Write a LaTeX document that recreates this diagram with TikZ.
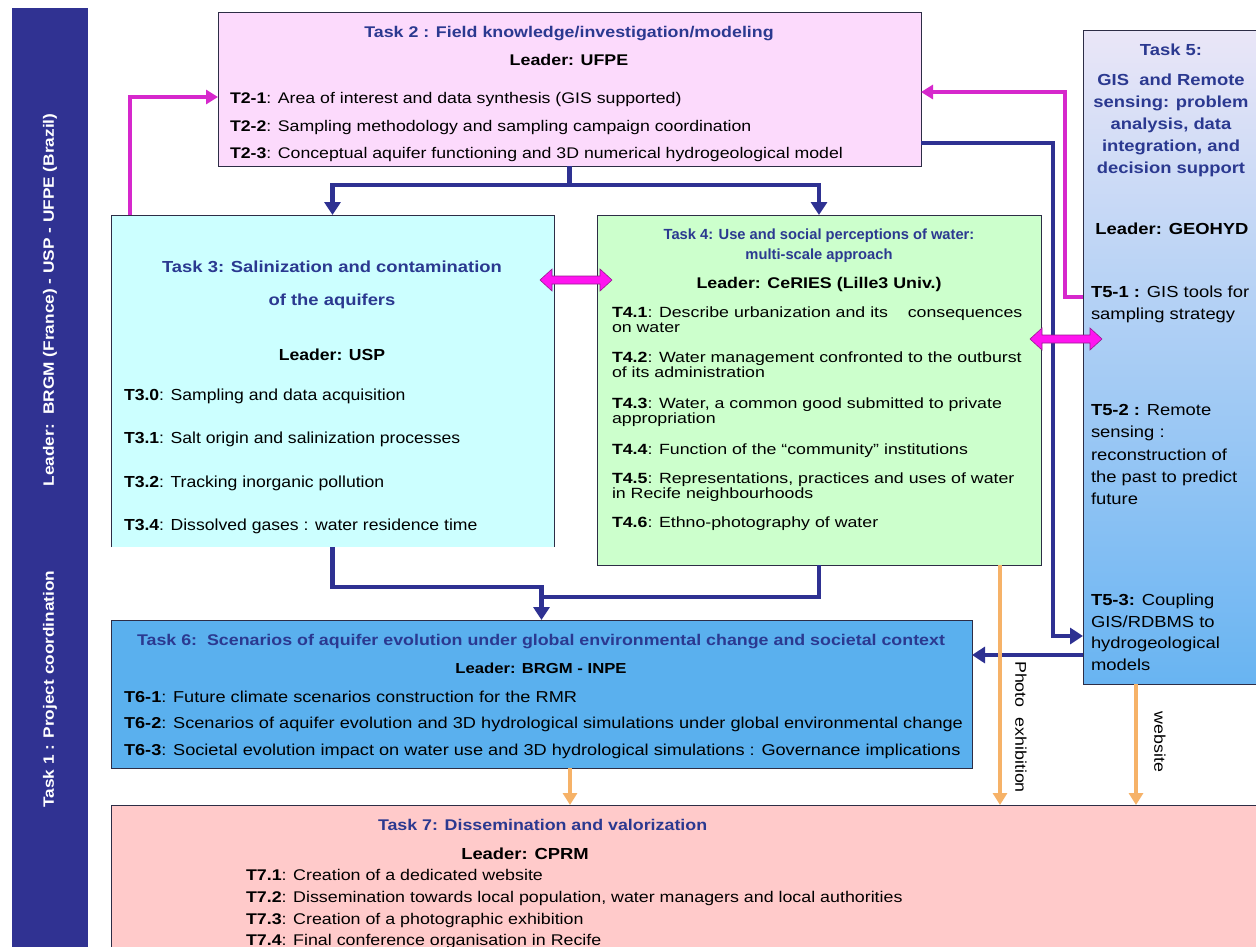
\documentclass[tikz,border=0pt]{standalone}
\usepackage{fontspec}
\setmainfont{Liberation Sans}
\newfontfamily\fa[FakeStretch=1.1]{Liberation Sans}
\newfontfamily\fb[FakeStretch=1.15]{Liberation Sans}
\newfontfamily\fc[FakeStretch=1.2]{Liberation Sans}
\usetikzlibrary{arrows.meta,calc}
\definecolor{barblue}{RGB}{48,50,146}
\definecolor{ttlc}{RGB}{43,57,144}
\definecolor{tpink}{RGB}{252,218,252}
\definecolor{tcyan}{RGB}{204,255,255}
\definecolor{tgreen}{RGB}{204,255,204}
\definecolor{tblue}{RGB}{90,176,238}
\definecolor{tsalmon}{RGB}{255,202,202}
\definecolor{tfivetop}{RGB}{234,230,247}
\definecolor{tfivebot}{RGB}{104,180,242}
\definecolor{navyc}{RGB}{46,49,146}
\definecolor{magc}{RGB}{214,40,204}
\definecolor{magfill}{RGB}{255,20,240}
\definecolor{orngc}{RGB}{246,178,104}
\definecolor{edgec}{RGB}{45,45,70}
\tikzset{
  box/.style={draw=edgec, line width=0.8pt, inner sep=0pt, outer sep=0pt, anchor=north west},
  navyline/.style={draw=navyc, line width=4.5pt},
  navyarr/.style={navyline, -{Triangle[length=13pt,width=16pt]}},
  magarr/.style={draw=magc, line width=3.5pt, -{Triangle[length=12pt,width=14pt]}},
  orarr/.style={draw=orngc, line width=3.5pt, -{Triangle[length=12pt,width=14pt]}},
  ln/.style={anchor=base west, inner sep=0pt, outer sep=0pt},
  lc/.style={anchor=base, inner sep=0pt, outer sep=0pt},
  ftwo/.style={font=\fb\fontsize{15.4}{17}\selectfont},
  fthree/.style={font=\fa\fontsize{16}{18}\selectfont},
  ffour/.style={font=\fc\fontsize{14.8}{17}\selectfont},
  ffive/.style={font=\fb\fontsize{16}{18}\selectfont},
  fsix/.style={font=\fb\fontsize{15.8}{17}\selectfont},
  fseven/.style={font=\fb\fontsize{15.5}{17}\selectfont},
  ttl/.style={text=ttlc},
}
\newcommand{\magdbl}[3]{%
  \filldraw[fill=magfill, draw=magc!70!black, line width=0.6pt]
    (#1,#3) -- (#1+12,#3-11) -- (#1+12,#3-4) -- (#2-12,#3-4) -- (#2-12,#3-11)
    -- (#2,#3) -- (#2-12,#3+11) -- (#2-12,#3+4) -- (#1+12,#3+4) -- (#1+12,#3+11) -- cycle;}
\begin{document}
\begin{tikzpicture}[x=1pt,y=-1pt]
\useasboundingbox (0,0) rectangle (1256,946);
\fill[white] (0,0) rectangle (1256,946);

% ---------- boxes ----------
\node[box, draw=none, fill=barblue, minimum width=76pt, minimum height=940pt] (t1) at (12,8) {};
\node[box, fill=tpink, minimum width=703pt, minimum height=154pt] (t2) at (218,12) {};
\node[box, draw=none, fill=tcyan, minimum width=443pt, minimum height=332pt] (t3) at (111,215) {};
\draw[draw=edgec, line width=0.8pt] (t3.south west) -- (t3.north west) -- (t3.north east) -- (t3.south east);
\node[box, fill=tgreen, minimum width=444pt, minimum height=350pt] (t4) at (597,215) {};
\node[box, top color=tfivetop, bottom color=tfivebot, minimum width=180pt, minimum height=654pt] (t5) at (1083,30) {};
\node[box, fill=tblue, minimum width=861pt, minimum height=148pt] (t6) at (111,620) {};
\node[box, fill=tsalmon, minimum width=1155pt, minimum height=150pt] (t7) at (111,805) {};

% ---------- Task 1 bar ----------
\node[rotate=90, text=white, font=\fb\bfseries\fontsize{15}{17}\selectfont, inner sep=0pt] (t1a) at (50,300) {Leader:\ \ BRGM (France) - USP - UFPE (Brazil)};
\node[rotate=90, text=white, font=\fb\bfseries\fontsize{15}{17}\selectfont, inner sep=0pt] (t1b) at (50,689) {Task 1 : Project coordination};

% ---------- Task 2 ----------
\node[lc, ttl, font=\fb\bfseries\fontsize{15.5}{17}\selectfont] (t2t) at (569,37) {Task 2 : Field knowledge/investigation/modeling};
\node[lc, font=\fb\bfseries\fontsize{15.5}{17}\selectfont] (t2l) at (569,65) {Leader: UFPE};
\node[ln, ftwo] (t2a) at (230,103) {\textbf{T2-1}: Area of interest and data synthesis (GIS supported)};
\node[ln, ftwo] (t2b) at (230,131) {\textbf{T2-2}: Sampling methodology and sampling campaign coordination};
\node[ln, ftwo] (t2c) at (230,158) {\textbf{T2-3}: Conceptual aquifer functioning and 3D numerical hydrogeological model};

% ---------- Task 3 ----------
\node[lc, ttl, font=\fb\bfseries\fontsize{16}{18}\selectfont] (t3t) at (332,272) {Task 3: Salinization and contamination};
\node[lc, ttl, font=\fb\bfseries\fontsize{16}{18}\selectfont] (t3u) at (332,305) {of the aquifers};
\node[lc, font=\fa\bfseries\fontsize{16}{18}\selectfont] (t3l) at (332,360) {Leader: USP};
\node[ln, fthree] (t3a) at (124,400) {\textbf{T3.0}: Sampling and data acquisition};
\node[ln, fthree] (t3b) at (124,443) {\textbf{T3.1}: Salt origin and salinization processes};
\node[ln, fthree] (t3c) at (124,487) {\textbf{T3.2}: Tracking inorganic pollution};
\node[ln, fthree] (t3d) at (124,530) {\textbf{T3.4}: Dissolved gases : water residence time};

% ---------- Task 4 ----------
\node[lc, ttl, font=\bfseries\fontsize{14.7}{16}\selectfont] (t4t) at (819,239) {Task 4: Use and social perceptions of water:};
\node[lc, ttl, font=\bfseries\fontsize{14.7}{16}\selectfont] (t4u) at (819,259) {multi-scale approach};
\node[lc, font=\fb\bfseries\fontsize{15.5}{17}\selectfont] (t4l) at (819,288) {Leader: CeRIES (Lille3 Univ.)};
\node[ln, ffour] (t4a) at (612,317) {\textbf{T4.1}: Describe urbanization and its\ \ \ \ consequences};
\node[ln, ffour] (t4b) at (612,332) {on water};
\node[ln, ffour] (t4c) at (612,362) {\textbf{T4.2}: Water management confronted to the outburst};
\node[ln, ffour] (t4d) at (612,377) {of its administration};
\node[ln, ffour] (t4e) at (612,408) {\textbf{T4.3}: Water, a common good submitted to private};
\node[ln, ffour] (t4f) at (612,423) {appropriation};
\node[ln, ffour] (t4g) at (612,454) {\textbf{T4.4}: Function of the “community” institutions};
\node[ln, ffour] (t4h) at (612,483) {\textbf{T4.5}: Representations, practices and uses of water};
\node[ln, ffour] (t4i) at (612,498) {in Recife neighbourhoods};
\node[ln, ffour] (t4j) at (612,527) {\textbf{T4.6}: Ethno-photography of water};

% ---------- Task 5 ----------
\node[lc, ttl, font=\fb\bfseries\fontsize{16}{18}\selectfont] (t5t) at (1171,55) {Task 5:};
\node[lc, ttl, font=\fb\bfseries\fontsize{16}{18}\selectfont] (t5u) at (1171,85) {GIS\ \ and Remote};
\node[lc, ttl, font=\fb\bfseries\fontsize{16}{18}\selectfont] (t5v) at (1171,107) {sensing: problem};
\node[lc, ttl, font=\fb\bfseries\fontsize{16}{18}\selectfont] (t5w) at (1171,129) {analysis, data};
\node[lc, ttl, font=\fb\bfseries\fontsize{16}{18}\selectfont] (t5x) at (1171,151) {integration, and};
\node[lc, ttl, font=\fb\bfseries\fontsize{16}{18}\selectfont] (t5y) at (1171,173) {decision support};
\node[lc, font=\fb\bfseries\fontsize{16}{18}\selectfont] (t5l) at (1172,234) {Leader: GEOHYD};
\node[ln, ffive] (t5a) at (1091,297) {\textbf{T5-1 :} GIS tools for};
\node[ln, ffive] (t5b) at (1091,319) {sampling strategy};
\node[ln, ffive] (t5c) at (1091,415) {\textbf{T5-2 :} Remote};
\node[ln, ffive] (t5d) at (1091,437) {sensing :};
\node[ln, ffive] (t5e) at (1091,460) {reconstruction of};
\node[ln, ffive] (t5f) at (1091,482) {the past to predict};
\node[ln, ffive] (t5g) at (1091,504) {future};
\node[ln, ffive] (t5h) at (1091,605) {\textbf{T5-3:} Coupling};
\node[ln, ffive] (t5i) at (1091,627) {GIS/RDBMS to};
\node[ln, ffive] (t5j) at (1091,648) {hydrogeological};
\node[ln, ffive] (t5k) at (1091,670) {models};

% ---------- Task 6 ----------
\node[lc, ttl, font=\fb\bfseries\fontsize{15.5}{17}\selectfont] (t6t) at (541,645) {Task 6:\ \ Scenarios of aquifer evolution under global environmental change and societal context};
\node[lc, font=\fb\bfseries\fontsize{14.5}{16}\selectfont] (t6l) at (541,673) {Leader: BRGM - INPE};
\node[ln, fsix] (t6a) at (124,702) {\textbf{T6-1}: Future climate scenarios construction for the RMR};
\node[ln, fsix] (t6b) at (124,728) {\textbf{T6-2}: Scenarios of aquifer evolution and 3D hydrological simulations under global environmental change};
\node[ln, fsix] (t6c) at (124,755) {\textbf{T6-3}: Societal evolution impact on water use and 3D hydrological simulations : Governance implications};

% ---------- Task 7 ----------
\node[ln, ttl, font=\fb\bfseries\fontsize{15.5}{17}\selectfont] (t7t) at (378,830) {Task 7: Dissemination and valorization};
\node[lc, font=\fb\bfseries\fontsize{16}{18}\selectfont] (t7l) at (525,859) {Leader: CPRM};
\node[ln, fseven] (t7a) at (246,880) {\textbf{T7.1}: Creation of a dedicated website};
\node[ln, fseven] (t7b) at (246,902) {\textbf{T7.2}: Dissemination towards local population, water managers and local authorities};
\node[ln, fseven] (t7c) at (246,924) {\textbf{T7.3}: Creation of a photographic exhibition};
\node[ln, fseven] (t7d) at (246,945) {\textbf{T7.4}: Final conference organisation in Recife};

% ---------- navy connectors ----------
\draw[navyline] (t2.south) -- ++(0,19) coordinate (hub);
\draw[navyarr] (hub) -| (t3.north);
\draw[navyarr] (hub) -| (t4.north);
\coordinate (m6) at ($(t6.north)+(0,-23)$);
\draw[navyline] (t3.south) |- ($(m6)+(0,-10)$) -- (m6);
\draw[navyline] (t4.south) |- (m6);
\draw[navyarr] (m6) -- (t6.north);
\coordinate (nA) at (1053,143);
\coordinate (nB) at (1053,636);
\draw[navyarr] (t2.east |- nA) -- (nA) -- (nB) -- (t5.west |- nB);
\coordinate (nC) at (1083,655);
\draw[navyarr] (t5.west |- nC) -- (t6.east |- nC);

% ---------- magenta connectors ----------
\coordinate (mA) at (1065,297);
\coordinate (mB) at (1065,92);
\draw[magarr] (t5.west |- mA) -- (mA) -- (mB) -- (t2.east |- mB);
\coordinate (mC) at (130,97);
\draw[magarr] (t3.north -| mC) -- (mC) -- (t2.west |- mC);
\magdbl{540}{612}{280}
\magdbl{1030}{1102}{339}

% ---------- orange connectors ----------
\coordinate (o1) at (570,0);
\coordinate (o2) at (1000,0);
\coordinate (o3) at (1136,0);
\draw[orarr] (t6.south -| o1) -- (t7.north -| o1);
\draw[orarr] (t4.south -| o2) -- (t7.north -| o2);
\draw[orarr] (t5.south -| o3) -- (t7.north -| o3);
\node[rotate=-90, font=\fb\fontsize{15.5}{17}\selectfont, inner sep=0pt] (lph) at (1021,727) {Photo\ \ exhibition};
\node[rotate=-90, font=\fb\fontsize{15.5}{17}\selectfont, inner sep=0pt] (lweb) at (1160,742) {website};
\end{tikzpicture}
\end{document}
